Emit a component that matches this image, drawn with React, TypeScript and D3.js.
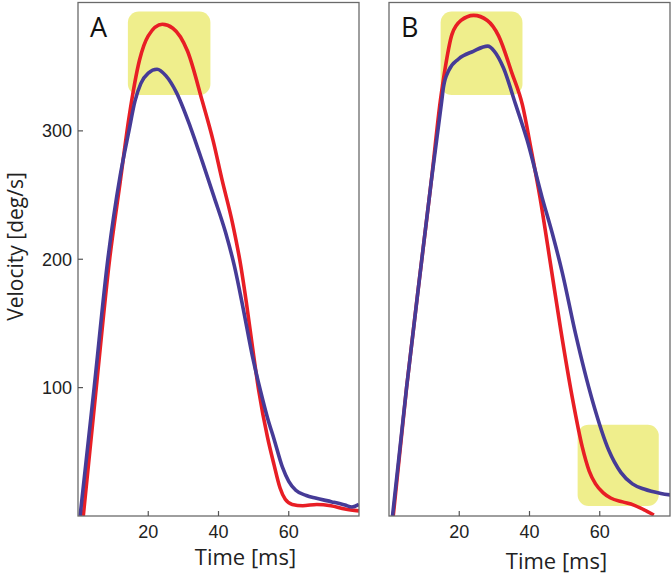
import { useRef, useEffect } from 'react';
import * as d3 from 'd3';

// time [ms] / velocity [deg/s]
const timeARed = [1.5, 5.2, 9.0, 12.0, 14.5, 17.5, 20, 24, 27, 31.2, 35.4, 38.5, 41, 44, 46.4, 48, 49.7, 51.5, 53.9, 55.8, 57.5, 59, 61, 64, 68, 72, 76, 80];
const velARed = [0, 100, 200, 260, 310, 355, 374, 383, 380, 362, 323, 292, 262, 228, 194, 165, 131, 97, 62, 40, 22, 13, 9, 8, 9, 8, 5.5, 4];
const timeABlue = [0.6, 4.6, 8.5, 12, 14.5, 16.2, 17.9, 20, 22.5, 25, 28, 32, 35.4, 38.8, 42, 44.5, 47, 49.7, 52, 54, 55.8, 58.2, 60, 62, 65, 67.6, 72.3, 76, 78, 80];
const velABlue = [0, 100, 200, 265, 300, 323, 337, 345, 348, 343, 330, 303, 276, 248, 221, 195, 162, 124, 97, 76, 60, 38, 27, 20, 16, 14, 11, 8.5, 7, 9];

const timeBRed = [1.2, 5, 9.3, 12, 14.6, 16, 17.9, 20.5, 24.1, 28, 31.2, 35, 38, 40.5, 43, 46, 48.9, 52.2, 55, 57, 58.8, 61, 63.1, 66.5, 69.7, 72.5, 75.4];
const velBRed = [0, 100, 199, 260, 323, 349, 375, 386, 390, 386, 374, 345, 320, 285, 248, 196, 145, 92, 54, 35, 25, 18, 14, 11, 8.5, 5, 0.8];
const timeBBlue = [1, 5, 9.3, 12, 15, 15.5, 17, 19.8, 24, 28.1, 30, 32.6, 36, 39.3, 43.6, 46.5, 49.3, 53.1, 57.9, 62.6, 66, 69.3, 72.6, 77.4, 80.4];
const velBBlue = [0, 100, 199, 260, 323, 334, 347, 356, 362, 366, 362, 349, 321, 293, 248, 220, 190, 142, 90, 51, 34, 25, 21, 17.6, 16.3];

// highlight boxes: [t0, t1, v0, v1]
const boxesA = [[14.2, 37.7, 328, 393]];
const boxesB = [[14.7, 38, 328, 393], [53.7, 76.8, 7.8, 71]];

const xTicks = [20, 40, 60];
const yTicks = [100, 200, 300];

const panels = [
  { key: 'A', left: 78, red: [timeARed, velARed], blue: [timeABlue, velABlue], boxes: boxesA, yLabels: true, labelY: 565 },
  { key: 'B', left: 389, red: [timeBRed, velBRed], blue: [timeBBlue, velBBlue], boxes: boxesB, yLabels: false, labelY: 569 },
];

export default function App() {
  const svgRef = useRef<SVGSVGElement>(null);

  useEffect(() => {
    const svg = d3.select(svgRef.current);
    svg.selectAll('*').remove();

    const top = 2.5;
    const bottom = 516;
    const pw = 281;
    const y = d3.scaleLinear().domain([0, 400]).range([bottom, top]);

    panels.forEach((p) => {
      const x = d3.scaleLinear().domain([0, 80]).range([p.left, p.left + pw]);
      const g = svg.append('g');

      g.append('clipPath').attr('id', 'clip' + p.key)
        .append('rect').attr('x', p.left).attr('y', top).attr('width', pw).attr('height', bottom - top);

      const plot = g.append('g').attr('clip-path', `url(#clip${p.key})`);

      plot.selectAll('rect.box').data(p.boxes).enter().append('rect')
        .attr('class', 'box')
        .attr('x', d => x(d[0]))
        .attr('width', d => x(d[1]) - x(d[0]))
        .attr('y', d => y(d[3]))
        .attr('height', d => y(d[2]) - y(d[3]))
        .attr('rx', 11)
        .attr('fill', '#efee8c');

      const line = d3.line<[number, number]>()
        .x(d => x(d[0]))
        .y(d => y(d[1]))
        .curve(d3.curveMonotoneX);

      const series = [
        { data: p.red, color: '#e81e25' },
        { data: p.blue, color: '#463b97' },
      ];
      series.forEach((s) => {
        const pts = s.data[0].map((t, i) => [t, s.data[1][i]] as [number, number]);
        plot.append('path')
          .attr('d', line(pts))
          .attr('fill', 'none')
          .attr('stroke', s.color)
          .attr('stroke-width', 3.6)
          .attr('stroke-linejoin', 'round');
      });

      // frame
      g.append('rect')
        .attr('x', p.left).attr('y', top)
        .attr('width', pw).attr('height', bottom - top)
        .attr('fill', 'none').attr('stroke', '#6a6a6a').attr('stroke-width', 1.3);

      // x ticks (inward)
      xTicks.forEach((t) => {
        g.append('line')
          .attr('x1', x(t)).attr('x2', x(t))
          .attr('y1', bottom).attr('y2', bottom - 5)
          .attr('stroke', '#555').attr('stroke-width', 1.2);
        g.append('text')
          .attr('x', x(t)).attr('y', bottom + 22)
          .attr('text-anchor', 'middle')
          .attr('font-family', 'Liberation Sans, Arial, sans-serif')
          .attr('font-size', 18)
          .attr('fill', '#222')
          .text(t);
      });

      if (p.yLabels) {
        yTicks.forEach((v) => {
          g.append('line')
            .attr('x1', p.left).attr('x2', p.left + 5)
            .attr('y1', y(v)).attr('y2', y(v))
            .attr('stroke', '#555').attr('stroke-width', 1.2);
          g.append('text')
            .attr('x', p.left - 6).attr('y', y(v) + 6.5)
            .attr('text-anchor', 'end')
            .attr('font-family', 'Liberation Sans, Arial, sans-serif')
            .attr('font-size', 18)
            .attr('fill', '#222')
            .text(v);
        });
      }

      g.append('text')
        .attr('x', p.left + 12).attr('y', 36.5)
        .attr('font-family', 'Open Sans, sans-serif')
        .attr('font-size', 27)
        .attr('fill', '#111')
        .text(p.key);

      g.append('text')
        .attr('x', p.left + pw / 2 + 27).attr('y', p.labelY)
        .attr('text-anchor', 'middle')
        .attr('font-family', 'Open Sans, sans-serif')
        .attr('font-size', 22)
        .attr('fill', '#222')
        .text('Time [ms]');
    });

    svg.append('text')
      .attr('transform', 'translate(23,246.5) rotate(-90)')
      .attr('text-anchor', 'middle')
      .attr('font-family', 'Open Sans, sans-serif')
      .attr('font-size', 21)
      .attr('fill', '#222')
      .text('Velocity [deg/s]');
  }, []);

  return (
    <svg ref={svgRef} width={671} height={575}
      style={{ position: 'absolute', left: 0, top: 0, background: '#fff' }} />
  );
}
